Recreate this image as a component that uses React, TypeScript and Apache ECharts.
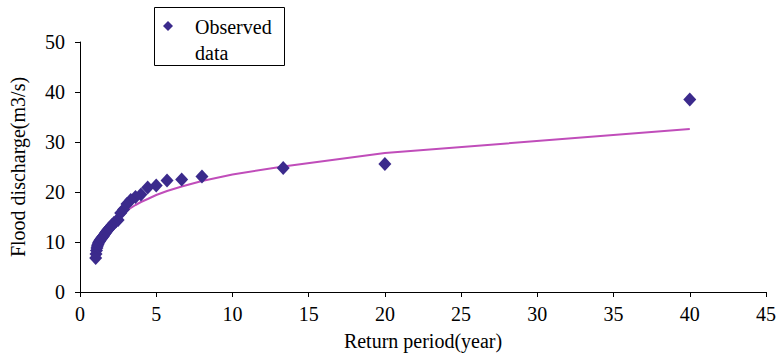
import React, { useEffect, useRef } from "react";
import * as echarts from "echarts";

const returnPeriods = [
  40, 20, 13.33, 8, 6.67, 5.71, 5, 4.44, 4, 3.64, 3.33, 3.08, 2.86, 2.67, 2.5,
  2.35, 2.22, 2.1, 2.0, 1.9, 1.82, 1.74, 1.67, 1.6, 1.54, 1.48, 1.43, 1.38,
  1.33, 1.29, 1.25, 1.21, 1.18, 1.14, 1.11, 1.08, 1.05, 1.03,
];
const observedQ = [
  38.5, 25.6, 24.8, 23.1, 22.5, 22.3, 21.3, 20.9, 19.5, 19.0, 18.4, 17.6, 16.5,
  15.8, 14.4, 14.1, 13.8, 13.4, 13.0, 12.7, 12.4, 12.1, 11.8, 11.5, 11.2, 11.0,
  10.8, 10.6, 10.4, 10.2, 10.0, 9.8, 9.5, 9.2, 8.8, 8.3, 7.6, 6.8,
];
const fitT = [2.86, 3.08, 3.33, 3.64, 4, 4.44, 5, 5.71, 6.67, 8, 10, 13.33, 20, 40];
const fitQ = [15.9, 16.3, 16.8, 17.4, 18.0, 18.6, 19.4, 20.2, 21.1, 22.2, 23.5, 25.1, 27.8, 32.6];

const xTicks = { min: 0, max: 45, interval: 5 };
const yTicks = { min: 0, max: 50, interval: 10 };

const FONT = "Liberation Serif";
const FS = 20;
const MARK = "#3B2A8C";

export default function App() {
  const ref = useRef<HTMLDivElement>(null);
  useEffect(() => {
    document.body.style.margin = "0";
    if (!ref.current) return;
    const chart = echarts.init(ref.current, null, { renderer: "svg" });
    const axisCommon = {
      axisLine: { show: true, lineStyle: { color: "#000", width: 1 } },
      axisTick: { show: true, inside: false, length: 5, lineStyle: { color: "#000" } },
      splitLine: { show: false },
      nameTextStyle: { color: "#000", fontFamily: FONT, fontSize: FS },
    };
    chart.setOption({
      animation: false,
      backgroundColor: "#fff",
      textStyle: { fontFamily: FONT },
      grid: { left: 79, right: 11, top: 42, bottom: 65, containLabel: false },
      xAxis: {
        type: "value",
        ...xTicks,
        ...axisCommon,
        name: "Return period(year)",
        nameLocation: "middle",
        nameGap: 39,
        axisLabel: { color: "#000", fontFamily: FONT, fontSize: FS, margin: 12 },
      },
      yAxis: {
        type: "value",
        ...yTicks,
        ...axisCommon,
        name: "Flood discharge(m3/s)",
        nameLocation: "middle",
        nameGap: 52,
        axisLabel: { color: "#000", fontFamily: FONT, fontSize: FS, margin: 15 },
      },
      series: [
        {
          name: "Fitted",
          type: "line",
          data: fitT.map((t, i) => [t, fitQ[i]]),
          showSymbol: false,
          symbol: "none",
          lineStyle: { color: "#C04DBA", width: 2 },
          z: 2,
        },
        {
          name: "Observed data",
          type: "scatter",
          data: returnPeriods.map((t, i) => [t, observedQ[i]]),
          symbol: "diamond",
          symbolSize: [13, 14],
          itemStyle: { color: MARK, opacity: 1 },
          z: 3,
        },
      ],
      graphic: [
        {
          type: "rect",
          shape: { x: 154.5, y: 7.5, width: 130, height: 58 },
          style: { fill: "#fff", stroke: "#000", lineWidth: 1 },
        },
        {
          type: "polygon",
          shape: { points: [[168, 21], [173, 26], [168, 31], [163, 26]] },
          style: { fill: MARK },
        },
        {
          type: "text",
          x: 195,
          y: 27,
          style: {
            text: "Observed",
            fontFamily: FONT,
            fontSize: FS,
            fill: "#000",
            verticalAlign: "middle",
          },
        },
        {
          type: "text",
          x: 195,
          y: 53,
          style: {
            text: "data",
            fontFamily: FONT,
            fontSize: FS,
            fill: "#000",
            verticalAlign: "middle",
          },
        },
      ],
    });
    return () => chart.dispose();
  }, []);
  return <div ref={ref} style={{ width: 779, height: 357 }} />;
}
